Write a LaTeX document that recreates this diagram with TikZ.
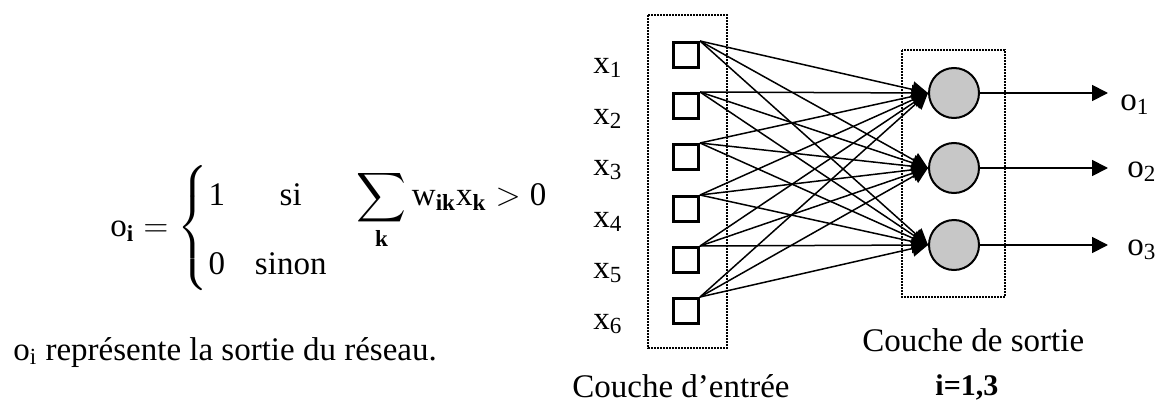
\RequirePackage{fix-cm}
\documentclass[tikz,border=0pt]{standalone}
\usepackage{amsmath}
\usepackage{fontspec}
\setmainfont{Liberation Serif}
\usetikzlibrary{arrows.meta}

\begin{document}
\begin{tikzpicture}[
  x=0.5pt, y=-0.5pt,
  font=\fontsize{16.5}{20}\selectfont,
  >={Triangle[length=8pt, width=8pt]},
  entree/.style={rectangle, draw, line width=1.5pt, minimum size=12.5pt, inner sep=0pt},
  neurone/.style={circle, draw, line width=1pt, fill=black!22, minimum size=25pt, inner sep=0pt},
  couche/.style={draw, line width=1pt, dash pattern=on 0.9pt off 0.6pt},
  lien/.style={->, line width=0.75pt},
  sortie/.style={->, line width=0.9pt},
  texte/.style={inner sep=0pt, anchor=base west},
]

\useasboundingbox (0,0) rectangle (1162,407);

% formule et legende
\node[inner sep=0pt, anchor=west] (formule) at (110,228)
  {$\mathrm{o}_{\mathbf{i}} = \left\{\begin{array}{@{}l@{\hspace{15pt}}c@{\hspace{15pt}}l@{}}
    \mathrm{1} & \text{si} & \displaystyle\sum_{\mathbf{k}} \mathrm{w}_{\mathbf{ik}}\mathrm{x}_{\mathbf{k}} > \mathrm{0} \\[-2pt]
    \mathrm{0} & \text{sinon} &
  \end{array}\right.$};
\node[texte] (legende) at (13,360) {o\textsubscript{i} représente la sortie du réseau.};

% couche d'entree
\draw[couche] (648,15) rectangle (727,348);
\foreach \i/\y in {1/55,2/106,3/157,4/209,5/260,6/311} {
  \node[entree] (x\i) at (686,\y) {};
  \node[texte] (lx\i) at (593,\y+18) {x\textsubscript{\i}};
}
\node[texte] (lentree) at (572,397) {Couche d'entrée};

% couche de sortie
\draw[couche] (902,50) rectangle (1005,297);
\foreach \j/\y/\b/\l in {1/93/110/1120,2/168/177/1127,3/245/255/1127} {
  \node[neurone] (o\j) at (954,\y) {};
  \coordinate (f\j) at (1108,\y);
  \node[texte] (lo\j) at (\l,\b) {o\textsubscript{\j}};
  \draw[sortie] (o\j) -- (f\j);
}
\node[texte] (lsortie) at (862,351) {Couche de sortie};
\node[texte, font=\fontsize{15}{18}\selectfont\bfseries] (lindice) at (935,395) {i=1,3};

% connexions
\foreach \i in {1,...,6}
  \foreach \j in {1,2,3}
    \draw[lien] (x\i.north east) -- (o\j.west);

\end{tikzpicture}
\end{document}
